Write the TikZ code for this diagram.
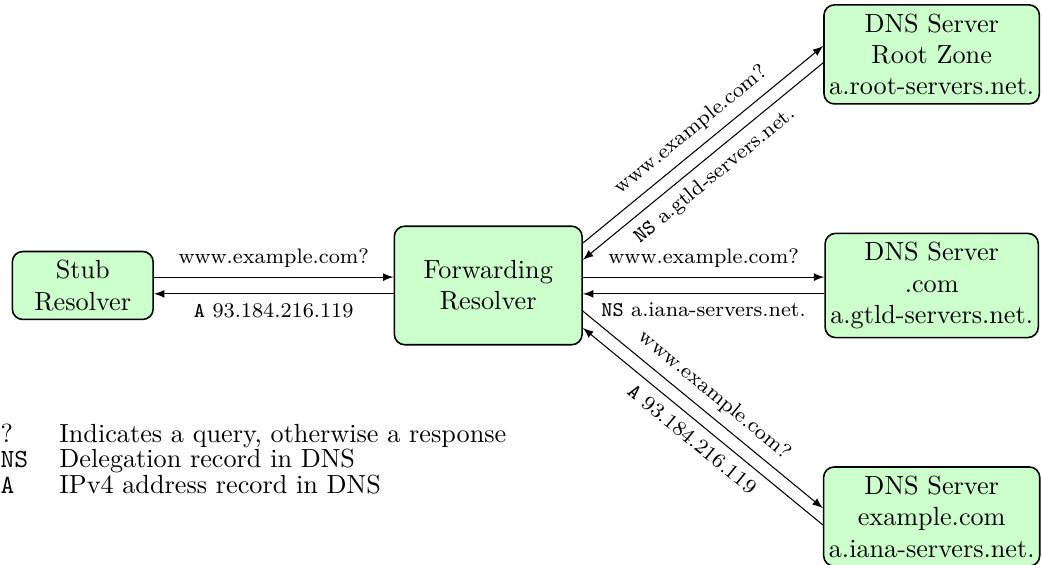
\documentclass[tikz,border=0pt]{standalone}
\tikzset{
	box/.style={draw, semithick, rounded corners, fill=green!20, align=center},
	dns/.style={box, inner xsep=2pt},
	lbl/.style={font=\footnotesize}
}
\begin{document}
\begin{tikzpicture}
	\useasboundingbox (0,0) rectangle (13.98,7.58);

	% resolvers
	\node[box, minimum width=1.89cm] (stub) at ( 1.11, 3.75) {Stub\\Resolver};
	\node[box, minimum width=2.52cm, minimum height=1.59cm] (fwd) at ( 6.55, 3.75) {Forwarding\\Resolver};

	% name servers
	\node[dns] (root) at (12.50, 6.85) {DNS Server\\Root Zone\\a.root-servers.net.};
	\node[dns] (com)  at (12.50, 3.75) {DNS Server\\.com\\a.gtld-servers.net.};
	\node[dns] (iana) at (12.50, 0.65) {DNS Server\\example.com\\a.iana-servers.net.};

	% stub <-> forwarder
	\draw[-latex] ([yshift= 3.2pt]stub.east) -- ([yshift= 3.2pt]fwd.west)  node[lbl, midway, above] {www.example.com?};
	\draw[-latex] ([yshift=-3.2pt]fwd.west)  -- ([yshift=-3.2pt]stub.east) node[lbl, midway, below] {\texttt{A} 93.184.216.119};

	% forwarder <-> root
	\draw[-latex] ([yshift=16.2pt]fwd.east)  -- ([yshift= 3.2pt]root.west) node[lbl, midway, sloped, above] {www.example.com?};
	\draw[-latex] ([yshift=-3.2pt]root.west) -- ([yshift= 9.8pt]fwd.east)  node[lbl, midway, sloped, below] {\texttt{NS} a.gtld-servers.net.};

	% forwarder <-> .com
	\draw[-latex] ([yshift= 3.2pt]fwd.east)  -- ([yshift= 3.2pt]com.west)  node[lbl, midway, above] {www.example.com?};
	\draw[-latex] ([yshift=-3.2pt]com.west)  -- ([yshift=-3.2pt]fwd.east)  node[lbl, midway, below] {\texttt{NS} a.iana-servers.net.};

	% forwarder <-> example.com
	\draw[-latex] ([yshift=-9.8pt]fwd.east)  -- ([yshift= 3.2pt]iana.west) node[lbl, midway, sloped, above] {www.example.com?};
	\draw[-latex] ([yshift=-3.2pt]iana.west) -- ([yshift=-16.2pt]fwd.east) node[lbl, midway, sloped, below] {\texttt{A} 93.184.216.119};

	% legend
	\node[anchor=base west, inner sep=0pt] (legend) at (0, 1.65) {\def\arraystretch{0.75}%
		\begin{tabular}[t]{@{}ll@{}}
			?            & Indicates a query, otherwise a response \\
			\texttt{NS}  & Delegation record in DNS \\
			\texttt{A}   & IPv4 address record in DNS
		\end{tabular}};
\end{tikzpicture}
\end{document}
